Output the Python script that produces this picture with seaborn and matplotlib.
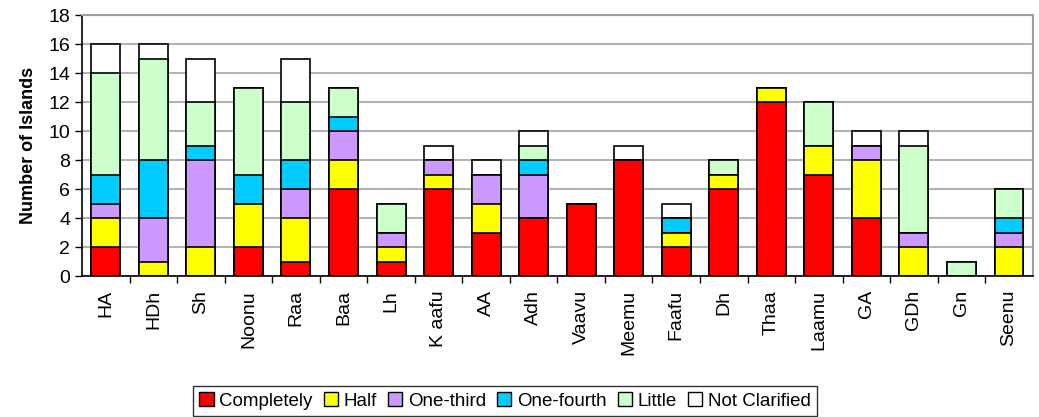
import numpy as np
import pandas as pd
import matplotlib
matplotlib.use("Agg")
import matplotlib.pyplot as plt
from matplotlib.patches import Patch
import seaborn as sns

# Atolls and island counts per damage category
atolls = ["HA", "HDh", "Sh", "Noonu", "Raa", "Baa", "Lh", "K aafu", "AA", "Adh",
          "Vaavu", "Meemu", "Faafu", "Dh", "Thaa", "Laamu", "GA", "GDh", "Gn", "Seenu"]
completely    = [2, 0, 0, 2, 1, 6, 1, 6, 3, 4, 5, 8, 2, 6, 12, 7, 4, 0, 0, 0]
half          = [2, 1, 2, 3, 3, 2, 1, 1, 2, 0, 0, 0, 1, 1, 1, 2, 4, 2, 0, 2]
one_third     = [1, 3, 6, 0, 2, 2, 1, 1, 2, 3, 0, 0, 0, 0, 0, 0, 1, 1, 0, 1]
one_fourth    = [2, 4, 1, 2, 2, 1, 0, 0, 0, 1, 0, 0, 1, 0, 0, 0, 0, 0, 0, 1]
little        = [7, 7, 3, 6, 4, 2, 2, 0, 0, 1, 0, 0, 0, 1, 0, 3, 0, 6, 1, 2]
not_clarified = [2, 1, 3, 0, 3, 0, 0, 1, 1, 1, 0, 1, 1, 0, 0, 0, 1, 1, 0, 0]

categories = ["Completely", "Half", "One-third", "One-fourth", "Little", "Not Clarified"]
colors = ["#ff0000", "#ffff00", "#cc99ff", "#00ccff", "#ccffcc", "#ffffff"]
series = [completely, half, one_third, one_fourth, little, not_clarified]

plt.rcParams["font.family"] = ["Liberation Sans", "DejaVu Sans"]

fig = plt.figure(figsize=(10.39, 4.17), dpi=100)
ax = fig.add_axes([0.079, 0.338, 0.915, 0.626])

# stacked bars: draw cumulative totals from top layer down
cum = np.cumsum(np.array(series), axis=0)
for k in range(len(categories) - 1, -1, -1):
    df = pd.DataFrame({"atoll": atolls, "value": cum[k]})
    sns.barplot(data=df, x="atoll", y="value", color=colors[k], saturation=1,
                width=0.61, edgecolor="black", linewidth=1.2, ax=ax, zorder=3)

ax.set_ylim(0, 18)
ax.set_xlim(-0.5, len(atolls) - 0.5)
ax.set_yticks(range(0, 19, 2))
ax.yaxis.grid(True, color="#b3b3b3", linewidth=1.5, zorder=0)
ax.set_axisbelow(True)
ax.set_xlabel("")
ax.set_ylabel("Number of Islands", fontsize=13, fontweight="bold", labelpad=8)

ax.set_xticks(range(len(atolls)))
ax.set_xticklabels(atolls, rotation=90, fontsize=14)
ax.tick_params(axis="x", which="major", length=0, pad=10)
ax.set_xticks(np.arange(0.5, len(atolls) - 0.5, 1), minor=True)
ax.tick_params(axis="x", which="minor", length=5, width=1, direction="out")
ax.tick_params(axis="y", labelsize=14, length=5, width=1)

for s in ["left", "bottom"]:
    ax.spines[s].set_color("black")
    ax.spines[s].set_linewidth(1.2)
for s in ["top", "right"]:
    ax.spines[s].set_color("#a0a0a0")
    ax.spines[s].set_linewidth(1.5)

handles = [Patch(facecolor=c, edgecolor="black", linewidth=1) for c in colors]
leg = fig.legend(handles, categories, loc="center", bbox_to_anchor=(0.486, 0.038),
                 ncol=6, fontsize=13.5, frameon=True, fancybox=False, edgecolor="black",
                 handlelength=0.75, handleheight=0.75, handletextpad=0.3,
                 columnspacing=0.6, borderpad=0.35)
leg.get_frame().set_linewidth(1)

fig.savefig("out.png", dpi=100)
